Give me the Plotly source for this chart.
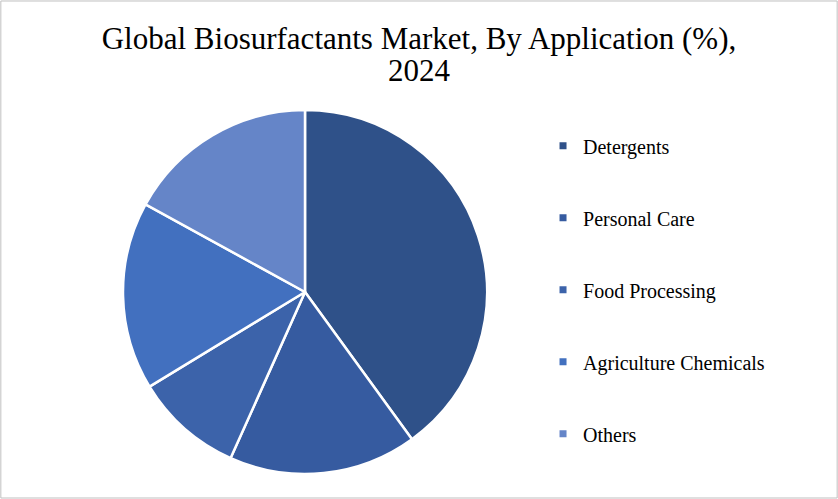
import plotly.graph_objects as go

labels = ["Detergents", "Personal Care", "Food Processing", "Agriculture Chemicals", "Others"]
values = [40.0, 16.7, 9.6, 16.7, 17.0]
colors = ["#2F5189", "#365BA0", "#3C63AA", "#4270BF", "#6585C8"]
title_line1 = "Global Biosurfactants Market, By Application (%),"
title_line2 = "2024"

FONT = "Georgia, 'Liberation Serif', 'DejaVu Serif', serif"

fig = go.Figure()
fig.add_trace(go.Pie(
    labels=labels, values=values, sort=False, direction="clockwise", rotation=0,
    marker=dict(colors=colors, line=dict(color="white", width=2.5)),
    textinfo="none", showlegend=False,
    domain=dict(x=[123/838, 487/838], y=[25/499, 389/499]),
))
for i, (lab, col) in enumerate(zip(labels, colors)):
    fig.add_trace(go.Scatter(
        x=[None], y=[None], mode="markers", name=lab,
        marker=dict(symbol="square", size=7, color=col),
        legendgroup=f"g{i}", showlegend=True,
    ))

fig.update_layout(
    width=838, height=499,
    margin=dict(l=0, r=0, t=0, b=0),
    paper_bgcolor="white", plot_bgcolor="white",
    font=dict(family=FONT, color="#000000"),
    title=dict(text=title_line1, x=0.5, xanchor="center", y=1 - 38/499, yanchor="middle",
               yref="container", font=dict(family=FONT, size=31, color="#000000")),
    annotations=[dict(text=title_line2, x=0.5, y=1 - 70/499, xref="paper", yref="paper",
                      xanchor="center", yanchor="middle", showarrow=False,
                      font=dict(family=FONT, size=31, color="#000000"))],
    xaxis=dict(visible=False, domain=[0.99, 1]),
    yaxis=dict(visible=False, domain=[0.99, 1]),
    legend=dict(x=0.648, y=0.747, xanchor="left", yanchor="top",
                font=dict(family=FONT, size=20, color="#000000"),
                tracegroupgap=43, itemwidth=30, bgcolor="rgba(0,0,0,0)"),
    shapes=[dict(type="rect", xref="paper", yref="paper", x0=0.001, x1=0.999,
                 y0=0.002, y1=0.998, line=dict(color="#BFBFBF", width=1))],
)

fig.write_html("out.html", config={"displayModeBar": False},
               post_script="document.body.style.margin='0';document.body.style.overflow='hidden';")
